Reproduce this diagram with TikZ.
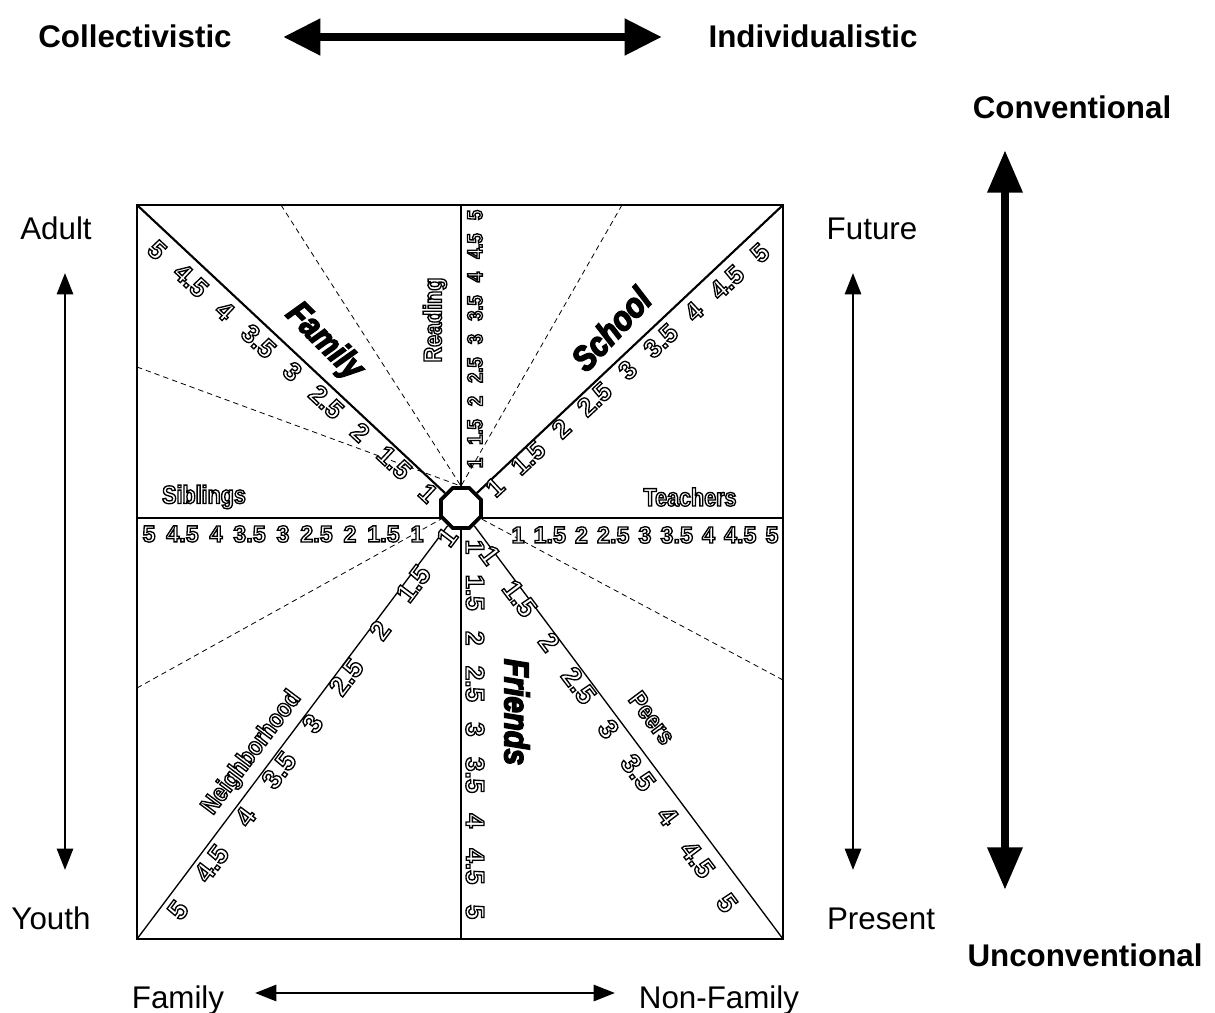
\documentclass[tikz,border=0pt]{standalone}
\usepackage{fontspec}
\setmainfont{Liberation Sans}
\newfontfamily\fA{Liberation Sans}
\newfontfamily\fR[FakeStretch=0.86]{Liberation Sans}
\newfontfamily\fL[FakeStretch=0.85]{Liberation Sans}
\usetikzlibrary{shapes.geometric,arrows.meta,calc}
% outlined text: fill white, stroke black (PDF text render mode 2)
\newcommand\outl[1]{\special{pdf:literal direct 2 Tr 1.0 w 1 1 1 rg 0 0 0 RG}#1\special{pdf:literal direct 0 Tr 0 0 0 rg}}
% heavy text: fill and stroke black
\newcommand\heavy[1]{\special{pdf:literal direct 2 Tr 1.1 w 0 0 0 rg 0 0 0 RG}#1\special{pdf:literal direct 0 Tr}}
\newcommand\numray[5]{%
  \foreach \v [count=\k from 0] in {1,1.5,2,2.5,3,3.5,4,4.5,5}
    \node[#5, rotate=#4] (#1\k) at ($(#2)!{\k/8}!(#3)$) {\outl{\v}};
}
\tikzset{
  oct/.style={regular polygon, regular polygon sides=8, minimum size=32.5pt, inner sep=0pt, draw, line width=2.8pt, fill=white},
  frame/.style={line width=0.9pt},
  dsh/.style={line width=0.6pt, dash pattern=on 4pt off 3pt},
  thickdiag/.style={line width=1.6pt},
  thindiag/.style={line width=1pt},
  thinv/.style={line width=0.8pt},
  thickv/.style={line width=2.2pt},
  hl/.style={line width=1pt},
  dnum/.style={inner sep=0pt, font=\fA\bfseries\fontsize{19.5}{19.5}\selectfont},
  dnumb/.style={inner sep=0pt, font=\fA\bfseries\fontsize{20.5}{20.5}\selectfont},
  hnum/.style={inner sep=0pt, font=\fA\bfseries\fontsize{17.5}{17.5}\selectfont},
  rnum/.style={inner sep=0pt, font=\fR\bfseries\fontsize{16}{16}\selectfont},
  vnum/.style={inner sep=0pt, font=\fA\bfseries\fontsize{19.5}{19.5}\selectfont},
  olab/.style={inner sep=0pt, font=\fL\bfseries\fontsize{19}{19}\selectfont},
  blab/.style={inner sep=0pt, font=\fL\bfseries\itshape\fontsize{26}{26}\selectfont},
  ext/.style={inner sep=0pt, anchor=base, font=\fA\fontsize{23.5}{28}\selectfont},
  extb/.style={ext, font=\fA\bfseries\fontsize{23.5}{28}\selectfont},
  bigarr/.style={line width=6.5pt, {Triangle[length=28pt,width=26pt]}-{Triangle[length=28pt,width=26pt]}},
  bigarrv/.style={line width=6.5pt, {Triangle[length=32pt,width=25pt]}-{Triangle[length=32pt,width=25pt]}},
  smallarr/.style={line width=2.2pt, {Triangle[length=16pt,width=12pt]}-{Triangle[length=16pt,width=12pt]}},
}
\begin{document}
\begin{tikzpicture}[x=0.75pt,y=-0.75pt]
\useasboundingbox (0,0) rectangle (1215,1013);
% frame coordinates
\coordinate (TL) at (137,205);
\coordinate (TR) at (783,205);
\coordinate (BL) at (137,939);
\coordinate (BR) at (783,939);
\coordinate (TM) at (461,205);
\coordinate (BM) at (461,939);
\coordinate (HL) at (137,518);
\coordinate (HR) at (783,518);
\coordinate (HLi) at (443,518);
\coordinate (HRi) at (479,518);
\coordinate (d1) at (281,205);
\coordinate (d2) at (622,205);
\coordinate (d3) at (137,367);
\coordinate (d4) at (137,688);
\coordinate (d5) at (783,680);
\node[oct] (O) at (461,508) {};
\draw[frame] (TL) rectangle (BR);
\draw[dsh] (d1) -- (O.north);
\draw[dsh] (d2) -- (O.north);
\draw[dsh] (d3) -- (O.north);
\draw[dsh] (d4) -- (O);
\draw[dsh] (d5) -- (O);
\draw[thickdiag] (TL) -- (O);
\draw[thickdiag] (TR) -- (O);
\draw[thindiag] (BL) -- (O);
\draw[thindiag] (BR) -- (O);
\draw[thinv] (TM) -- (O.north);
\draw[thickv] (O.south) -- (BM);
\draw[hl] (HL) -- (HLi);
\draw[hl] (HRi) -- (HR);
% number scales
\coordinate (fa1) at (428,493); \coordinate (fa5) at (157,250);
\coordinate (re1) at (475,463); \coordinate (re5) at (475,215);
\coordinate (sc1) at (495,487); \coordinate (sc5) at (760,253);
\coordinate (te1) at (518,535); \coordinate (te5) at (772,535);
\coordinate (si1) at (417,534); \coordinate (si5) at (149,534);
\coordinate (ne1) at (447,537); \coordinate (ne5) at (178,910);
\coordinate (fr1) at (475,547); \coordinate (fr5) at (475,912);
\coordinate (pe1) at (490,555); \coordinate (pe5) at (727,903);
\numray{fam}{fa1}{fa5}{-43}{dnum}
\numray{rea}{re1}{re5}{90}{rnum}
\numray{sch}{sc1}{sc5}{43}{dnum}
\numray{tea}{te1}{te5}{0}{hnum}
\numray{sib}{si1}{si5}{0}{hnum}
\numray{nei}{ne1}{ne5}{53}{dnumb}
\numray{fri}{fr1}{fr5}{-90}{vnum}
\numray{pee}{pe1}{pe5}{-53}{dnumb}
% ray labels
\node[olab] (lsib) at (204,497) {\outl{Siblings}};
\node[olab] (ltea) at (690,497) {\outl{Teachers}};
\node[olab, rotate=90] (lrea) at (435,320) {\outl{Reading}};
\node[olab, rotate=53] (lnei) at (252,753) {\outl{Neighborhood}};
\node[olab, rotate=-53] (lpee) at (652,718) {\outl{Peers}};
\node[blab, rotate=-45] (lfam) at (324,342) {\heavy{Family}};
\node[blab, rotate=47] (lsch) at (611,329) {\heavy{School}};
\node[blab, rotate=-90] (lfri) at (517,712) {\heavy{Friends}};
% outer labels
\node[extb] (coll) at (135,48) {Collectivistic};
\node[extb] (indi) at (813,48) {Individualistic};
\node[extb] (conv) at (1072,119) {Conventional};
\node[extb] (unco) at (1085,966) {Unconventional};
\node[ext] (adult) at (56,240) {Adult};
\node[ext] (youth) at (51,929) {Youth};
\node[ext] (fut) at (872,240) {Future};
\node[ext] (pres) at (881,929) {Present};
\node[ext] (famb) at (178,1008) {Family};
\node[ext] (nfam) at (719,1008) {Non-Family};
% arrows
\coordinate (ca) at (283,37); \coordinate (cb) at (662,37);
\draw[bigarr] (ca) -- (cb);
\coordinate (va) at (1005,150); \coordinate (vb) at (1005,890);
\draw[bigarrv] (va) -- (vb);
\coordinate (aa) at (65,273); \coordinate (ab) at (65,870);
\draw[smallarr] (aa) -- (ab);
\coordinate (fa) at (853,273); \coordinate (fb) at (853,870);
\draw[smallarr] (fa) -- (fb);
\coordinate (ha) at (255,993); \coordinate (hb) at (615,993);
\draw[smallarr] (ha) -- (hb);
\end{tikzpicture}
\end{document}
